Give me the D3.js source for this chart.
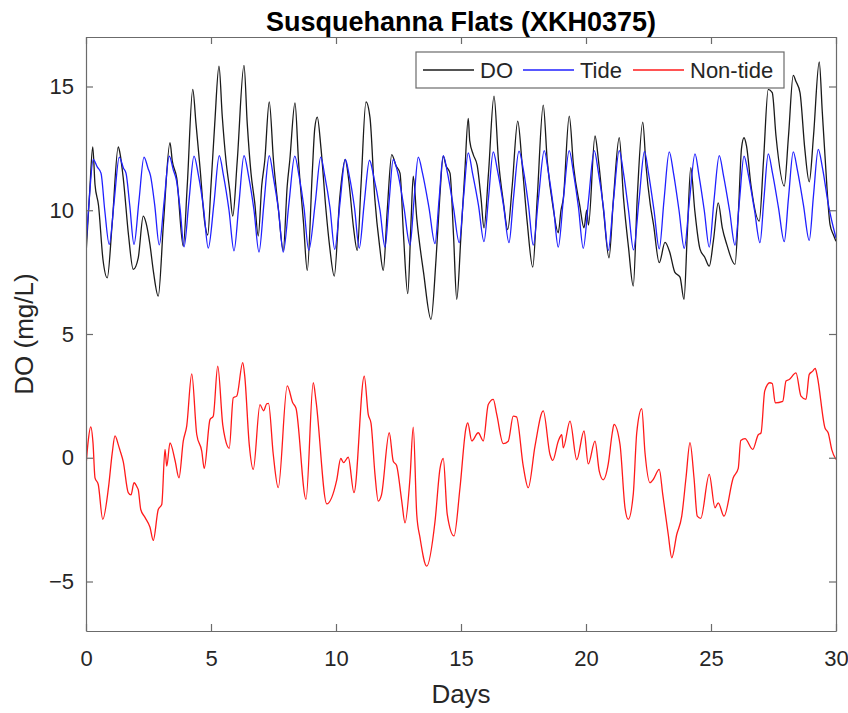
<!DOCTYPE html>
<html>
<head>
<meta charset="utf-8">
<script src="https://cdn.jsdelivr.net/npm/d3@7"></script>
<style>
  body { margin: 0; background: #fff; }
  svg { font-family: "Liberation Sans", Arial, sans-serif; }
</style>
</head>
<body>
<svg id="chart" width="848" height="713"></svg>
<script>
const marginLeft = 86;
const marginTop = 37;
const plotRight = 836;
const plotBottom = 631;

const xTicks = [0, 5, 10, 15, 20, 25, 30];
const yTicks = [-5, 0, 5, 10, 15];
const seriesNames = ["DO", "Tide", "Non-tide"];
const seriesColors = ["#1a1a1a", "#2020ff", "#ff1a1a"];

// [day, mg/L]
const doValues = [
  [0, 8.21], [0.15, 10.8], [0.27, 12.56], [0.36, 11.04], [0.5, 10.2], [0.68, 8.0], [0.85, 7.27],
  [1.05, 9.5], [1.29, 12.56], [1.36, 12.3], [1.49, 11.3], [1.7, 9.0], [1.89, 7.61], [2.09, 8.08],
  [2.29, 9.76], [2.4, 9.5], [2.56, 8.6], [2.7, 7.5], [2.89, 6.53], [3.1, 9.5], [3.36, 12.73],
  [3.45, 12.0], [3.63, 11.3], [3.89, 8.55], [4.05, 11.0], [4.27, 14.88], [4.4, 13.5], [4.56, 11.72],
  [4.75, 9.5], [4.87, 9.0], [5.0, 11.0], [5.15, 13.5], [5.32, 15.82], [5.45, 13.8], [5.6, 12.0],
  [5.75, 10.8], [5.87, 9.76], [6.05, 12.0], [6.32, 15.85], [6.45, 13.5], [6.6, 11.5], [6.75, 10.3],
  [6.89, 8.96], [7.03, 11.0], [7.15, 12.0], [7.33, 14.38], [7.5, 12.0], [7.7, 10.0], [7.89, 8.38],
  [8.05, 11.0], [8.15, 12.0], [8.36, 14.34], [8.5, 12.0], [8.7, 9.5], [8.85, 7.57], [9.05, 11.5],
  [9.15, 13.3], [9.25, 13.76], [9.4, 12.5], [9.6, 10.0], [9.75, 8.5], [9.93, 7.34], [10.15, 10.5],
  [10.37, 12.05], [10.5, 11.3], [10.7, 9.3], [10.85, 8.38], [11.0, 11.0], [11.2, 14.38], [11.36, 13.74],
  [11.55, 10.5], [11.75, 8.5], [11.89, 7.57], [12.05, 10.0], [12.23, 12.25], [12.4, 11.8], [12.56, 11.5],
  [12.7, 9.0], [12.87, 6.63], [13.0, 9.5], [13.09, 11.38], [13.23, 9.68], [13.5, 7.5], [13.8, 5.59],
  [14.0, 8.0], [14.15, 10.5], [14.29, 12.19], [14.4, 11.8], [14.56, 11.5], [14.7, 9.0], [14.83, 6.4],
  [15.0, 9.0], [15.15, 11.5], [15.29, 13.71], [15.35, 12.8], [15.49, 12.25], [15.65, 11.8], [15.8, 10.5],
  [15.92, 9.29], [16.1, 11.5], [16.32, 14.61], [16.5, 12.0], [16.7, 10.3], [16.87, 9.22], [17.05, 11.0],
  [17.27, 13.6], [17.45, 11.8], [17.65, 9.5], [17.87, 7.7], [18.05, 10.5], [18.29, 14.25], [18.45, 12.0],
  [18.7, 10.0], [18.89, 9.09], [19.0, 10.0], [19.09, 10.45], [19.33, 13.8], [19.5, 11.8], [19.75, 10.2],
  [19.92, 9.29], [20.03, 10.0], [20.1, 9.4], [20.36, 13.0], [20.5, 12.0], [20.7, 10.0], [20.92, 8.08],
  [21.1, 10.5], [21.33, 12.93], [21.5, 10.5], [21.7, 8.5], [21.89, 6.94], [22.05, 10.5], [22.27, 13.56],
  [22.4, 11.8], [22.57, 10.24], [22.7, 9.43], [22.93, 7.88], [23.16, 8.7], [23.35, 8.3], [23.55, 7.5],
  [23.76, 7.3], [23.92, 6.4], [24.05, 9.0], [24.19, 11.72], [24.35, 10.0], [24.56, 8.43], [24.75, 8.1],
  [24.93, 7.74], [25.1, 8.8], [25.29, 10.3], [25.45, 9.3], [25.63, 8.62], [25.96, 7.81], [26.1, 10.0],
  [26.22, 12.5], [26.32, 12.93], [26.42, 12.6], [26.6, 11.0], [26.93, 9.56], [27.1, 12.0], [27.29, 14.88],
  [27.45, 14.75], [27.6, 13.0], [27.93, 10.98], [28.1, 13.0], [28.29, 15.45], [28.4, 15.2], [28.56, 14.75],
  [28.75, 12.5], [28.93, 11.15], [29.1, 13.0], [29.33, 15.99], [29.45, 14.0], [29.56, 12.19], [29.76, 9.43],
  [29.9, 9.0], [30, 8.75]
];

const tideValues = [
  [0, 8.62], [0.12, 10.3], [0.29, 12.05], [0.45, 11.75], [0.6, 11.5], [0.75, 10.0], [0.93, 8.62],
  [1.13, 10.4], [1.33, 12.15], [1.5, 11.7], [1.6, 11.5], [1.75, 10.2], [1.92, 8.62],
  [2.12, 10.4], [2.32, 12.15], [2.48, 11.7], [2.58, 11.4], [2.75, 10.2], [2.93, 8.6],
  [3.13, 10.4], [3.33, 12.19], [3.5, 11.6], [3.62, 11.2], [3.77, 10.0], [3.92, 8.52],
  [4.12, 10.4], [4.32, 12.19], [4.5, 11.4], [4.7, 10.1], [4.89, 8.47],
  [5.12, 10.3], [5.33, 12.21], [5.5, 11.4], [5.72, 10.0], [5.92, 8.36],
  [6.12, 10.3], [6.32, 12.21], [6.5, 11.4], [6.72, 10.0], [6.92, 8.31],
  [7.12, 10.3], [7.33, 12.21], [7.5, 11.3], [7.7, 10.0], [7.89, 8.31],
  [8.12, 10.3], [8.35, 12.19], [8.52, 11.4], [8.72, 10.1], [8.91, 8.38],
  [9.17, 10.3], [9.39, 12.15], [9.55, 11.4], [9.76, 10.1], [9.95, 8.42],
  [10.16, 10.3], [10.37, 12.05], [10.53, 11.4], [10.74, 10.1], [10.93, 8.47],
  [11.13, 10.3], [11.34, 12.02], [11.5, 11.4], [11.76, 10.0], [11.96, 8.51],
  [12.12, 10.3], [12.29, 12.05], [12.45, 11.6], [12.72, 10.1], [12.96, 8.59],
  [13.12, 10.4], [13.29, 12.15], [13.46, 11.5], [13.72, 10.1], [13.96, 8.65],
  [14.12, 10.4], [14.29, 12.21], [14.46, 11.5], [14.7, 10.1], [14.93, 8.69],
  [15.1, 10.5], [15.29, 12.32], [15.46, 11.5], [15.7, 10.2], [15.92, 8.73],
  [16.1, 10.5], [16.29, 12.36], [16.46, 11.6], [16.7, 10.2], [16.92, 8.69],
  [17.1, 10.5], [17.32, 12.39], [17.5, 11.6], [17.7, 10.2], [17.89, 8.59],
  [18.1, 10.5], [18.33, 12.41], [18.5, 11.5], [18.7, 10.1], [18.89, 8.51],
  [19.1, 10.5], [19.33, 12.41], [19.5, 11.5], [19.7, 10.1], [19.89, 8.46],
  [20.1, 10.4], [20.33, 12.41], [20.5, 11.5], [20.7, 10.1], [20.89, 8.38],
  [21.1, 10.4], [21.33, 12.41], [21.5, 11.5], [21.7, 10.0], [21.9, 8.4],
  [22.12, 10.4], [22.34, 12.38], [22.5, 11.5], [22.72, 10.0], [22.93, 8.44],
  [23.12, 10.4], [23.33, 12.36], [23.5, 11.5], [23.72, 10.0], [23.93, 8.46],
  [24.14, 10.4], [24.36, 12.28], [24.52, 11.4], [24.73, 10.0], [24.93, 8.51],
  [25.12, 10.4], [25.33, 12.21], [25.5, 11.4], [25.74, 10.0], [25.96, 8.59],
  [26.14, 10.4], [26.32, 12.19], [26.5, 11.4], [26.74, 10.0], [26.96, 8.69],
  [27.12, 10.5], [27.29, 12.28], [27.46, 11.5], [27.7, 10.1], [27.93, 8.73],
  [28.1, 10.5], [28.29, 12.36], [28.46, 11.6], [28.7, 10.2], [28.93, 8.78],
  [29.1, 10.6], [29.29, 12.46], [29.46, 11.7], [29.7, 10.2], [30, 8.88]
];

const nonTideValues = [
  [0, -0.34], [0.08, 0.6], [0.19, 1.25], [0.28, 0.6], [0.36, -0.81], [0.49, -1.08], [0.67, -2.49],
  [0.9, -1.2], [1.05, 0.2], [1.16, 0.88], [1.3, 0.5], [1.36, 0.3], [1.49, -0.16], [1.69, -1.41],
  [1.8, -1.5], [1.92, -1.01], [2.05, -1.2], [2.09, -1.29], [2.19, -2.09], [2.36, -2.41], [2.56, -2.81],
  [2.69, -3.34], [2.89, -2.09], [3.03, -1.89], [3.16, 0.34], [3.23, -0.34], [3.36, 0.6], [3.56, -0.1],
  [3.72, -0.81], [3.89, 0.67], [4.03, 1.29], [4.23, 3.39], [4.43, 0.94], [4.63, 0.27], [4.73, -0.43],
  [4.96, 1.54], [5.09, 1.68], [5.27, 3.7], [5.47, 1.33], [5.56, 0.8], [5.73, 0.38], [5.89, 2.42],
  [6.03, 2.49], [6.27, 3.84], [6.35, 3.3], [6.53, 0.53], [6.69, -0.47], [6.96, 2.15], [7.1, 1.9],
  [7.23, 2.18], [7.3, 2.2], [7.49, 0.14], [7.69, -1.21], [8.05, 2.9], [8.27, 2.22], [8.4, 2.0],
  [8.8, -1.68], [9.09, 3.03], [9.2, 2.3], [9.63, -1.86], [10.03, -0.89], [10.19, -0.03], [10.3, -0.2],
  [10.49, 0.02], [10.72, -1.41], [11.13, 3.3], [11.29, 1.75], [11.4, 1.4], [11.56, -0.68], [11.69, -1.75],
  [11.82, -1.5], [12.13, 1.01], [12.29, -0.14], [12.42, -0.3], [12.63, -1.75], [12.76, -2.63], [12.96, -0.81],
  [13.09, 1.24], [13.23, -2.29], [13.36, -3.23], [13.63, -4.38], [13.96, -2.58], [14.16, -0.44], [14.29, -0.03],
  [14.45, -2.29], [14.72, -3.16], [14.96, -1.21], [15.2, 1.21], [15.27, 1.41], [15.43, 0.68], [15.69, 1.01],
  [15.89, 0.68], [16.09, 2.15], [16.29, 2.36], [16.43, 1.75], [16.69, 0.57], [16.89, 0.67], [17.09, 1.68],
  [17.22, 1.65], [17.49, -0.34], [17.69, -1.21], [17.96, 0.47], [18.29, 1.89], [18.56, 0.13], [18.67, -0.11],
  [18.89, 0.67], [19.03, 0.93], [19.09, 0.4], [19.36, 1.48], [19.63, -0.08], [19.92, 1.08], [20.09, -0.25],
  [20.36, 0.67], [20.53, -0.54], [20.69, -0.89], [20.89, -0.25], [21.05, 1.0], [21.12, 1.35], [21.36, 0.54],
  [21.56, -2.02], [21.69, -2.49], [21.89, -1.48], [22.03, 1.01], [22.23, 1.98], [22.36, 0.2], [22.56, -1.01],
  [22.69, -0.88], [22.93, -0.47], [23.07, -1.48], [23.29, -3.1], [23.43, -4.04], [23.63, -3.1], [23.83, -2.36],
  [24.0, -0.81], [24.16, 0.61], [24.32, -0.81], [24.45, -2.36], [24.59, -2.45], [24.93, -0.67], [25.16, -2.02],
  [25.29, -1.82], [25.52, -2.36], [25.89, -0.81], [26.09, -0.43], [26.19, 0.7], [26.36, 0.77], [26.67, 0.34],
  [26.89, 0.93], [27.0, 1.0], [27.15, 2.7], [27.35, 3.03], [27.45, 3.0], [27.57, 2.22], [27.87, 2.28],
  [28.0, 3.1], [28.13, 3.16], [28.4, 3.43], [28.6, 2.49], [28.8, 2.36], [28.93, 3.37], [29.07, 3.5],
  [29.17, 3.61], [29.25, 3.3], [29.56, 1.2], [29.69, 1.0], [29.83, 0.33], [30, -0.07]
];

const svg = d3.select("#chart");
const textColor = "#262626";
const axisColor = "#6b6b6b";

const xScale = d3.scaleLinear().domain([0, 30]).range([marginLeft, plotRight]);
const yScale = d3.scaleLinear().domain([-7, 17]).range([plotBottom, marginTop]);

// Lines (clipped to the plot box)
svg.append("clipPath").attr("id", "plotClip")
  .append("rect")
  .attr("x", marginLeft).attr("y", marginTop)
  .attr("width", plotRight - marginLeft).attr("height", plotBottom - marginTop);

const line = d3.line()
  .x(d => xScale(d[0]))
  .y(d => yScale(d[1]))
  .curve(d3.curveMonotoneX);

const lines = svg.append("g").attr("clip-path", "url(#plotClip)");
[doValues, tideValues, nonTideValues].forEach(function (data, i) {
  lines.append("path")
    .datum(data)
    .attr("fill", "none")
    .attr("stroke", seriesColors[i])
    .attr("stroke-width", 1.3)
    .attr("stroke-linejoin", "round")
    .attr("d", line);
});

// Axes, MATLAB style: ticks pointing inward on all four sides
function styleAxis(g) {
  g.selectAll(".domain").attr("stroke", axisColor).attr("stroke-width", 1.2);
  g.selectAll(".tick line").attr("stroke", axisColor).attr("stroke-width", 1.2);
  g.selectAll(".tick text").attr("fill", textColor)
    .style("font-size", "22px").style("font-family", "'Liberation Sans', Arial, sans-serif");
}

svg.append("g")
  .attr("transform", "translate(0," + plotBottom + ")")
  .call(d3.axisBottom(xScale).tickValues(xTicks).tickSizeInner(-7).tickSizeOuter(0).tickPadding(19))
  .call(styleAxis);

svg.append("g")
  .attr("transform", "translate(0," + marginTop + ")")
  .call(d3.axisTop(xScale).tickValues(xTicks).tickSizeInner(-7).tickSizeOuter(0).tickFormat(""))
  .call(styleAxis);

svg.append("g")
  .attr("transform", "translate(" + marginLeft + ",0)")
  .call(d3.axisLeft(yScale).tickValues(yTicks).tickSizeInner(-7).tickSizeOuter(0).tickPadding(12))
  .call(styleAxis);

svg.append("g")
  .attr("transform", "translate(" + plotRight + ",0)")
  .call(d3.axisRight(yScale).tickValues(yTicks).tickSizeInner(-7).tickSizeOuter(0).tickFormat(""))
  .call(styleAxis);

// Title and axis labels
svg.append("text")
  .attr("x", (marginLeft + plotRight) / 2)
  .attr("y", 31)
  .attr("text-anchor", "middle")
  .attr("fill", "#000")
  .style("font-size", "27px")
  .style("font-weight", "bold")
  .text("Susquehanna Flats (XKH0375)");

svg.append("text")
  .attr("x", 461)
  .attr("y", 703)
  .attr("text-anchor", "middle")
  .attr("fill", textColor)
  .style("font-size", "26px")
  .text("Days");

svg.append("text")
  .attr("transform", "translate(33," + ((marginTop + plotBottom) / 2) + ") rotate(-90)")
  .attr("text-anchor", "middle")
  .attr("fill", textColor)
  .style("font-size", "26px")
  .text("DO (mg/L)");

// Legend
const legend = svg.append("g").attr("transform", "translate(416,52)");
legend.append("rect")
  .attr("width", 368).attr("height", 36)
  .attr("fill", "#fff").attr("stroke", axisColor).attr("stroke-width", 1.2);

const legendLineX = [7, 107, 217];
const legendTextX = [64, 164, 274];
seriesNames.forEach(function (name, i) {
  legend.append("line")
    .attr("x1", legendLineX[i]).attr("x2", legendLineX[i] + 51)
    .attr("y1", 18).attr("y2", 18)
    .attr("stroke", seriesColors[i]).attr("stroke-width", 1.3);
  legend.append("text")
    .attr("x", legendTextX[i])
    .attr("y", 26)
    .attr("fill", textColor)
    .style("font-size", "22px")
    .text(name);
});
</script>
</body>
</html>
